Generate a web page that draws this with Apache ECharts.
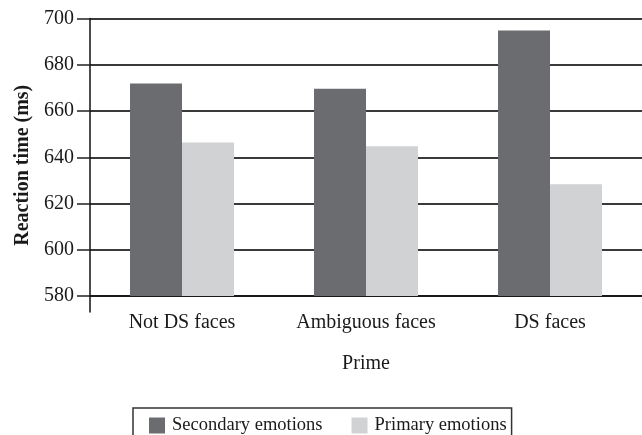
<!DOCTYPE html>
<html>
<head>
<meta charset="utf-8">
<script src="https://cdn.jsdelivr.net/npm/echarts@6/dist/echarts.min.js"></script>
<style>
  html, body { margin: 0; padding: 0; background: #fff; }
  #chart { width: 642px; height: 435px; }
</style>
</head>
<body>
<div id="chart"></div>
<script>
// data
const categories = ['Not DS faces', 'Ambiguous faces', 'DS faces']
const secondary = [671.9, 669.6, 694.8]
const primary = [646.4, 644.8, 628.3]
const yTicks = [580, 600, 620, 640, 660, 680, 700]

const serif = '"Liberation Serif", "DejaVu Serif", serif'

let myChart = echarts.init(document.getElementById('chart'))
myChart.setOption({
    animation: false,
    textStyle: { fontFamily: serif },
    grid: [
        { left: 90, right: 0, top: 18.5, bottom: 139 },
        // small stub so the y axis line runs a little below the x axis
        { left: 90, width: 1, top: 296, height: 16 }
    ],
    legend: {
        data: ['Secondary emotions', 'Primary emotions'],
        left: 133,
        top: 408,
        icon: 'rect',
        itemWidth: 16,
        itemHeight: 16,
        itemGap: 29,
        borderColor: '#333',
        borderWidth: 1.5,
        borderRadius: 0,
        padding: [8, 5, 12, 16],
        textStyle: { fontFamily: serif, fontSize: 18.5, color: '#1a1a1a', padding: [0, 0, 0, 2] }
    },
    xAxis: [
        {
            type: 'category',
            data: categories,
            name: 'Prime',
            nameLocation: 'middle',
            nameGap: 58,
            nameTextStyle: { fontFamily: serif, fontSize: 20, color: '#1a1a1a' },
            axisLine: { lineStyle: { color: '#111', width: 1.5 } },
            axisTick: { show: false },
            axisLabel: { fontFamily: serif, fontSize: 20, color: '#1a1a1a', margin: 17 }
        },
        { gridIndex: 1, type: 'value', show: false }
    ],
    yAxis: [
        {
            type: 'value',
            min: yTicks[0],
            max: yTicks[yTicks.length - 1],
            interval: 20,
            name: 'Reaction time (ms)',
            nameLocation: 'middle',
            nameGap: 55,
            nameTextStyle: { fontFamily: serif, fontSize: 20, fontWeight: 'bold', color: '#1a1a1a', padding: [0, 16, 0, 0] },
            axisLine: { show: true, lineStyle: { color: '#111', width: 1.5 } },
            axisTick: { show: true, length: 13, lineStyle: { color: '#222', width: 1.5 } },
            axisLabel: { fontFamily: serif, fontSize: 20, color: '#1a1a1a', margin: 16 },
            splitLine: { lineStyle: { color: '#3a3a3a', width: 1.8 } }
        },
        {
            gridIndex: 1,
            type: 'value',
            axisLine: { show: true, lineStyle: { color: '#111', width: 1.5 } },
            axisTick: { show: false },
            axisLabel: { show: false },
            splitLine: { show: false }
        }
    ],
    series: [
        {
            name: 'Secondary emotions',
            type: 'bar',
            data: secondary,
            barGap: '0%',
            barCategoryGap: '43.5%',
            itemStyle: { color: '#6b6c70' }
        },
        {
            name: 'Primary emotions',
            type: 'bar',
            data: primary,
            itemStyle: { color: '#d1d2d4' }
        }
    ]
})
</script>
</body>
</html>
